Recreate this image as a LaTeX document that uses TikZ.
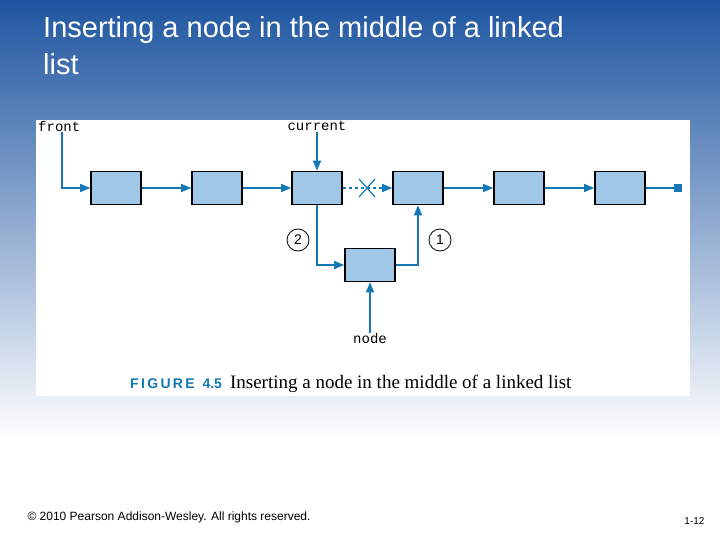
\documentclass[tikz,border=0pt]{standalone}
\usepackage{fontspec}
\setmainfont{Liberation Serif}
\setsansfont{Liberation Sans}
\setmonofont{Liberation Mono}
\usetikzlibrary{positioning,arrows.meta}
\definecolor{linkblue}{RGB}{20,120,180}
\definecolor{cellfill}{RGB}{160,200,230}
\definecolor{slidetop}{RGB}{30,85,160}
\begin{document}
\begin{tikzpicture}[x=1pt,y=-1pt,
		cell/.style={draw, line width=1.6pt, fill=cellfill, minimum width=50pt, minimum height=33pt, inner sep=0pt},
		link/.style={draw=linkblue, line width=1.5pt, -{Triangle[length=10pt,width=8pt]}},
		lbl/.style={font=\ttfamily\fontsize{14}{16}\selectfont, inner sep=1pt},
		num/.style={draw, circle, thick, inner sep=1pt, font=\sffamily\fontsize{14}{16}\selectfont, minimum size=22pt},
		]
		% slide background
		\useasboundingbox (0,0) rectangle (720,540);
		\shade[top color=slidetop, bottom color=white] (0,0) rectangle (720,440);
		\fill[white] (36,120) rectangle (690,396);

		\node[anchor=north west, white, font=\sffamily\fontsize{29}{37}\selectfont, align=left, inner sep=0pt] (title) at (43,16) {Inserting a node in the middle of a linked\\list};

		% list cells
		\node (c1) [cell] at (116,188) {};
		\node (c2) [cell] at (217,188) {};
		\node (c3) [cell] at (317,188) {};
		\node (c4) [cell] at (418,188) {};
		\node (c5) [cell] at (519,188) {};
		\node (c6) [cell] at (620,188) {};
		\node (new) [cell] at (370,265) {};

		\node (front) [lbl, anchor=west] at (37,126) {front};
		\node (current) [lbl] at (317,126) {current};
		\node (nodelbl) [lbl] at (370,339) {node};
		\coordinate (frontbend) at (62,188);
		\coordinate (nil) at (678,188);
		\coordinate (cross) at (367,188);

		\draw[link] (front.south -| frontbend) -- (frontbend) -- (c1);
		\draw[link] (current) -- (c3);
		\draw[link] (c1) -- (c2);
		\draw[link] (c2) -- (c3);
		\draw[link, dashed] (c3) -- (c4);
		\draw[link] (c4) -- (c5);
		\draw[link] (c5) -- (c6);
		\draw[draw=linkblue, line width=1.5pt] (c6) -- (nil);
		\fill[linkblue] ([shift={(-4,-4)}]nil) rectangle ([shift={(4,4)}]nil);
		\draw[linkblue, line width=1.2pt] ([shift={(-8,-9)}]cross) -- ([shift={(8,9)}]cross)
			([shift={(-8,9)}]cross) -- ([shift={(8,-9)}]cross);

		\draw[link] (c3.south) |- (new.west);
		\draw[link] (new.east) -| (c4.south);
		\draw[link] (nodelbl) -- (new);
		\node (two) [num] at (298,240) {2};
		\node (one) [num] at (440,240) {1};

		% caption
		\node (caption) [anchor=west, inner sep=0pt] at (130,384)
			{\textcolor{linkblue}{\sffamily\bfseries\fontsize{14}{16}\selectfont F\,I\,G\,U\,R\,E\;\;4.5}\;\; \fontsize{19}{22}\selectfont Inserting a node in the middle of a linked list};

		% footer
		\node (copy) [anchor=west, font=\sffamily\fontsize{12}{14}\selectfont] at (24,517) {© 2010 Pearson Addison-Wesley. All rights reserved.};
		\node (page) [anchor=east, font=\sffamily\fontsize{10}{12}\selectfont] at (708,521) {1-12};
	\end{tikzpicture}
\end{document}
